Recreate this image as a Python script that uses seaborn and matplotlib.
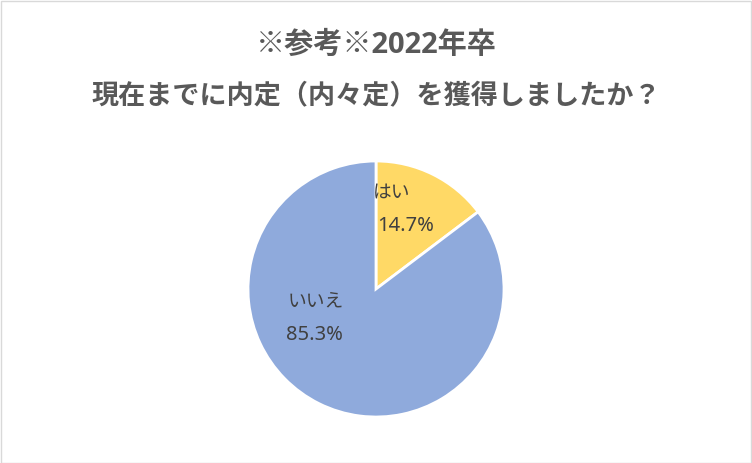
import matplotlib
matplotlib.use("Agg")
import matplotlib.pyplot as plt
import seaborn as sns
from matplotlib.patches import Rectangle

# Survey answers (share of respondents, %)
categories = ["はい", "いいえ"]
shares = [14.7, 85.3]
title_lines = ["※参考※2022年卒", "現在までに内定（内々定）を獲得しましたか？"]

sns.set_theme(style="white")
plt.rcParams["font.family"] = ["Noto Sans CJK JP", "DejaVu Sans"]

palette = ["#FFD966", "#8FAADC"]
text_color = "#404040"
title_color = "#595959"

fig = plt.figure(figsize=(7.52, 4.63), dpi=100)
fig.patch.set_facecolor("white")

# Square axes holding the pie (centre ~ (376, 289) px, radius 128 px)
W, H = 752, 463
cx, cy, r = 376, 289, 128
ax = fig.add_axes([(cx - r) / W, (H - cy - r) / H, 2 * r / W, 2 * r / H])

ax.pie(shares, colors=palette, startangle=90, counterclock=False,
       wedgeprops=dict(edgecolor="white", linewidth=2))
ax.set_xlim(-1, 1)
ax.set_ylim(-1, 1)
ax.set_aspect("equal")
ax.axis("off")

# Data labels: category name above the percentage
label_pos = [((0.12, 0.76), (0.23, 0.49)), ((-0.47, -0.09), (-0.48, -0.36))]
for cat, val, (p_name, p_val) in zip(categories, shares, label_pos):
    ax.text(*p_name, cat, ha="center", va="center", fontsize=13.5, color=text_color)
    ax.text(*p_val, f"{val:.1f}%", ha="center", va="center", fontsize=14.5,
            color=text_color, family=["Noto Sans", "DejaVu Sans"])

# Two-line bold title (Latin digits in Open Sans, kanji/kana in Noto Sans CJK)
title_family = ["Open Sans", "Noto Sans CJK JP", "DejaVu Sans"]
fig.text(0.5, 1 - 45 / H, title_lines[0], ha="center", va="center",
         fontsize=21, fontweight="bold", color=title_color, family=title_family)
fig.text(0.5, 1 - 97 / H, title_lines[1], ha="center", va="center",
         fontsize=19.5, fontweight="bold", color=title_color, family=title_family)

# Thin light-grey frame around the chart area
fig.add_artist(Rectangle((0.5 / W, 0.5 / H), 1 - 1.5 / W, 1 - 1.5 / H,
                         transform=fig.transFigure, fill=False,
                         edgecolor="#D9D9D9", linewidth=1))

fig.savefig("out.png", dpi=100, facecolor="white")
